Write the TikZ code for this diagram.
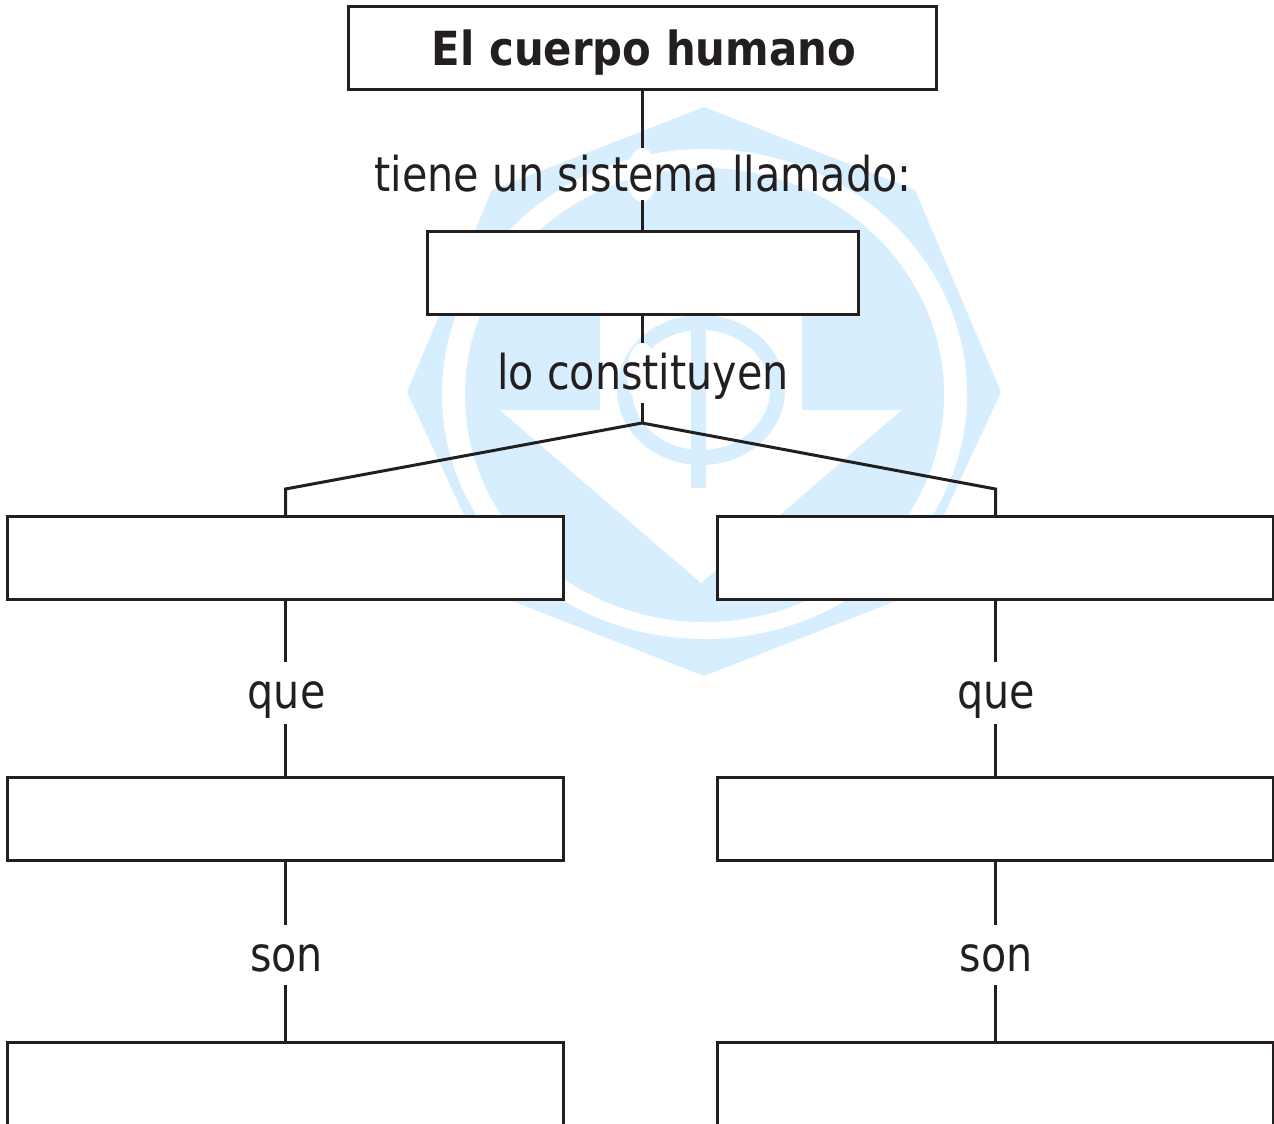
\documentclass[tikz,border=0pt]{standalone}
\usepackage{fontspec}
\setmainfont[FakeStretch=0.86]{DejaVu Sans}
\newfontfamily\titlefont[FakeStretch=0.89]{DejaVu Sans Bold}
\definecolor{ink}{HTML}{231F20}
\definecolor{wm}{HTML}{D6EEFD}
\tikzset{
  boxn/.style={draw=ink,line width=3pt,fill=white,rectangle,inner sep=0pt,outer sep=0pt},
  conn/.style={draw=ink,line width=3pt,line join=miter},
  lab/.style={text=ink,font=\fontsize{48}{48}\selectfont,inner sep=0pt,outer sep=0pt,anchor=base},
  titlelab/.style={text=ink,font=\titlefont\fontsize{47}{47}\selectfont,inner sep=0pt,outer sep=0pt,anchor=base}
}
\begin{document}
\begin{tikzpicture}[x=1pt,y=-1pt]
\useasboundingbox (0,0) rectangle (1274,1124);
\clip (0,0) rectangle (1274,1124);
% watermark
\fill[wm] (704,107)--(915,190)--(1001,392)--(906,597)--(704,676)--(502,597)--(407,392)--(492,190)--cycle;
\fill[white] (704.5,394) ellipse [x radius=262.5,y radius=245];
\fill[wm] (704.5,395) ellipse [x radius=239.5,y radius=227];
\fill[white] (500,410)--(600,410)--(600,300)--(802,300)--(802,410)--(901.5,410)--(701,583)--cycle;
\fill[wm,even odd rule] (701,390) ellipse [x radius=84,y radius=75] (701,390) ellipse [x radius=69,y radius=60];
\fill[wm] (691,300) rectangle (706,488);
% halos behind the labels
\fill[white] (642,175) ellipse [x radius=15,y radius=27];
\fill[white] (642,373) ellipse [x radius=15,y radius=30];
% boxes
\node[boxn,minimum width=588pt,minimum height=82pt] (title) at (642.5,48) {};
\node[titlelab] (titletext) at (644,65.5) {El cuerpo humano};
\node[boxn,minimum width=431pt,minimum height=83pt] (sys) at (642.5,273) {};
\node[boxn,minimum width=556pt,minimum height=83pt] (l1) at (285,558) {};
\node[boxn,minimum width=556pt,minimum height=83pt] (r1) at (995,558) {};
\node[boxn,minimum width=556pt,minimum height=83pt] (l2) at (285,819) {};
\node[boxn,minimum width=556pt,minimum height=83pt] (r2) at (995,819) {};
\node[boxn,minimum width=556pt,minimum height=160pt] (l3) at (285,1122.5) {};
\node[boxn,minimum width=556pt,minimum height=160pt] (r3) at (995,1122.5) {};
% labels
\node[lab] (t1) at (643,191) {tiene un sistema llamado:};
\node[lab] (t2) at (643,389.5) {lo constituyen};
\node[lab] (ql) at (286.5,708) {que};
\node[lab] (qr) at (996,708) {que};
\node[lab] (sl) at (286.5,971) {son};
\node[lab] (sr) at (996,971) {son};
% connector ends
\coordinate (a1) at (642,148); \coordinate (a2) at (642,200);
\coordinate (b1) at (642,343); \coordinate (b2) at (642,403);
\coordinate (fork) at (642,423);
\coordinate (fl) at (285.5,489); \coordinate (fr) at (995.5,489);
\coordinate (ql1) at (285.5,662); \coordinate (ql2) at (285.5,724);
\coordinate (qr1) at (995.5,662); \coordinate (qr2) at (995.5,724);
\coordinate (sl1) at (285.5,925); \coordinate (sl2) at (285.5,985);
\coordinate (sr1) at (995.5,925); \coordinate (sr2) at (995.5,985);
\draw[conn] (title.south -| a1) -- (a1);
\draw[conn] (a2) -- (sys.north -| a2);
\draw[conn] (sys.south -| b1) -- (b1);
\draw[conn] (b2) -- (fork);
\draw[conn] (l1.north -| fl) -- (fl) -- (fork) -- (fr) -- (r1.north -| fr);
\draw[conn] (l1.south -| ql1) -- (ql1);
\draw[conn] (ql2) -- (l2.north -| ql2);
\draw[conn] (r1.south -| qr1) -- (qr1);
\draw[conn] (qr2) -- (r2.north -| qr2);
\draw[conn] (l2.south -| sl1) -- (sl1);
\draw[conn] (sl2) -- (l3.north -| sl2);
\draw[conn] (r2.south -| sr1) -- (sr1);
\draw[conn] (sr2) -- (r3.north -| sr2);
\end{tikzpicture}
\end{document}
